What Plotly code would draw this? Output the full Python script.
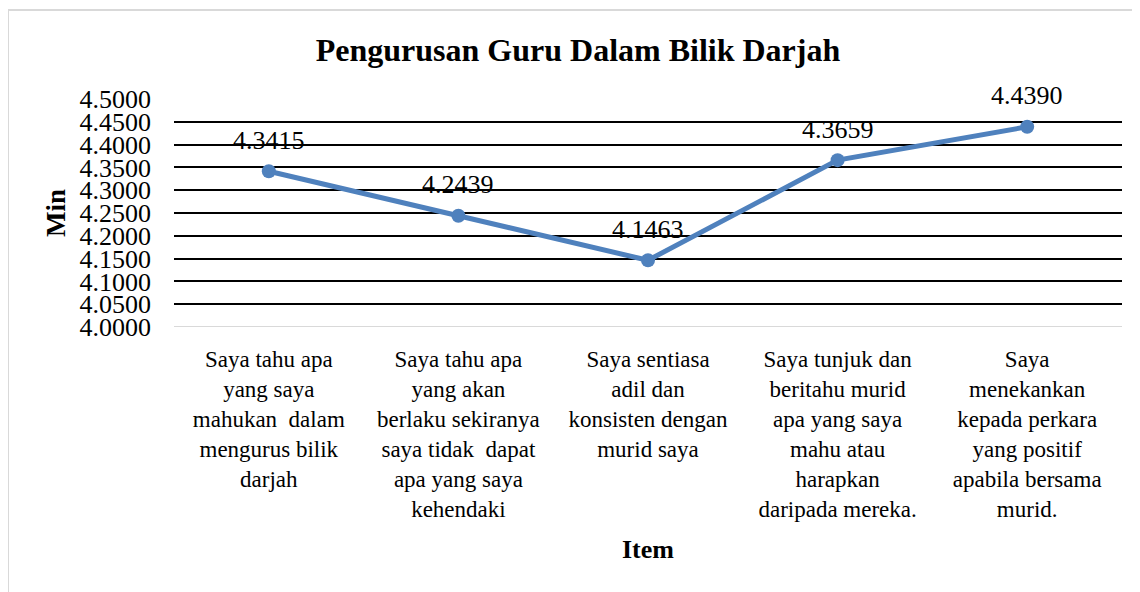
import plotly.graph_objects as go

categories = [
    "Saya tahu apa<br>yang saya<br>mahukan  dalam<br>mengurus bilik<br>darjah",
    "Saya tahu apa<br>yang akan<br>berlaku sekiranya<br>saya tidak  dapat<br>apa yang saya<br>kehendaki",
    "Saya sentiasa<br>adil dan<br>konsisten dengan<br>murid saya",
    "Saya tunjuk dan<br>beritahu murid<br>apa yang saya<br>mahu atau<br>harapkan<br>daripada mereka.",
    "Saya<br>menekankan<br>kepada perkara<br>yang positif<br>apabila bersama<br>murid.",
]
values = [4.3415, 4.2439, 4.1463, 4.3659, 4.4390]
value_labels = ["4.3415", "4.2439", "4.1463", "4.3659", "4.4390"]
y_ticks = [4.00, 4.05, 4.10, 4.15, 4.20, 4.25, 4.30, 4.35, 4.40, 4.45, 4.50]

FONT = "Liberation Serif"
# page body has an 8px default margin; the figure is sized to fill the rest
W, H = 1132, 584
L, R, T, B = 166, 18, 91, 265
pw, ph = W - L - R, H - T - B

x_idx = list(range(len(categories)))

fig = go.Figure()
fig.add_trace(go.Scatter(
    x=x_idx, y=values,
    mode="lines+markers",
    line=dict(color="#4F81BD", width=5),
    marker=dict(color="#4F81BD", size=14),
    cliponaxis=False, hoverinfo="skip", showlegend=False,
))

for xi, v, lab in zip(x_idx, values, value_labels):
    fig.add_annotation(x=xi, y=v, xref="x", yref="y", text=lab, showarrow=False,
                       xanchor="center", yanchor="middle", yshift=31,
                       font=dict(family=FONT, size=26, color="#000000"))

fig.update_layout(
    width=W, height=H,
    margin=dict(l=L, r=R, t=T, b=B, autoexpand=False),
    paper_bgcolor="white", plot_bgcolor="white",
    font=dict(family=FONT, size=26, color="#000000"),
    title=dict(text="<b>Pengurusan Guru Dalam Bilik Darjah</b>",
               font=dict(family=FONT, size=32, color="#000000"),
               x=570 / W, xanchor="center", y=1 - 42 / H, yanchor="middle",
               xref="container", yref="container"),
    xaxis=dict(
        tickmode="array", tickvals=x_idx, ticktext=categories,
        range=[-0.5, len(categories) - 0.5], automargin=False,
        showgrid=False, zeroline=False, showline=False, ticks="",
        ticklabelstandoff=16,
        tickfont=dict(family=FONT, size=23),
        title=dict(text="<b>Item</b>", font=dict(family=FONT, size=26), standoff=19),
    ),
    yaxis=dict(
        range=[4.0, 4.5], tickmode="array", tickvals=y_ticks,
        ticktext=[f"{v:.4f}" for v in y_ticks], automargin=False,
        showgrid=True, gridcolor="#000000", gridwidth=1.5,
        zeroline=False, showline=False, ticks="",
        ticklabelstandoff=22,
        tickfont=dict(family=FONT, size=26),
        title=dict(text="<b>Min</b>", font=dict(family=FONT, size=27), standoff=6),
    ),
)

# light gray baseline at 4.0
fig.add_shape(type="line", xref="paper", yref="y", x0=0, x1=1, y0=4.0, y1=4.0,
              line=dict(color="#D9D9D9", width=2), layer="above")

# chart border (light gray)
fig.add_shape(type="rect", xref="paper", yref="paper",
              x0=(0 - L) / pw, x1=(W + 20 - L) / pw,
              y0=-(H + 20 - (T + ph)) / ph, y1=(T + ph - 2) / ph,
              line=dict(color="#D9D9D9", width=2), fillcolor="rgba(0,0,0,0)",
              layer="below")

fig.write_html("out.html")
